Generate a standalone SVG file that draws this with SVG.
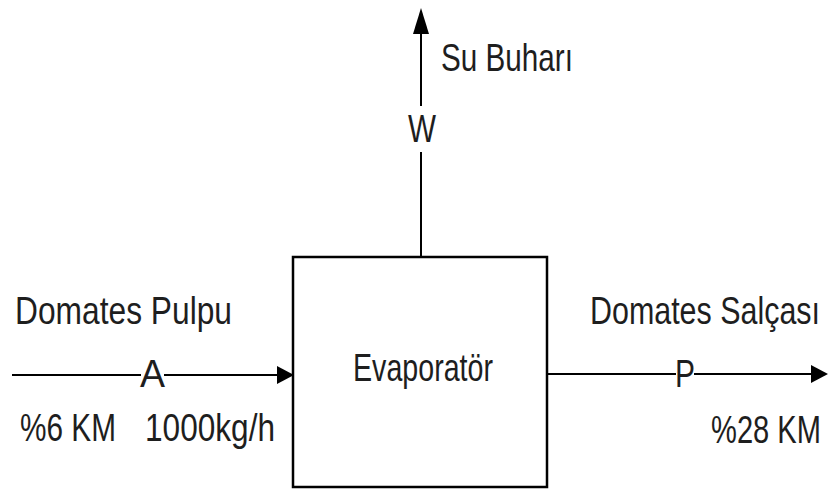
<svg xmlns="http://www.w3.org/2000/svg" width="830" height="490" viewBox="0 0 830 490">
<style>
text{font-family:"Liberation Sans Narrow","Liberation Sans",Arial,sans-serif;font-size:39px;fill:#1e1e1e}
.r{text-anchor:end}
.ln{stroke:#000;stroke-width:2;fill:none}
.hd{fill:#000;stroke:none}
</style>
<rect width="830" height="490" fill="#fff"/>
<g id="connectors">
<line class="ln" x1="421" y1="257" x2="421" y2="152"/>
<line class="ln" x1="421" y1="106" x2="421" y2="30"/>
<polygon class="hd" points="421,8 413,34 429,34"/>
<line class="ln" x1="12" y1="375" x2="141" y2="375"/>
<line class="ln" x1="164" y1="375" x2="279" y2="375"/>
<polygon class="hd" points="294,375 277,366 277,384"/>
<line class="ln" x1="547" y1="374" x2="676" y2="374"/>
<line class="ln" x1="694" y1="374" x2="813" y2="374"/>
<polygon class="hd" points="828,374 811,365 811,383"/>
</g>
<g id="evaporator">
<rect x="293" y="257" width="254" height="230" fill="#fff" stroke="#000" stroke-width="2.5"/>
<text x="353" y="381" textLength="140" lengthAdjust="spacingAndGlyphs">Evaporatör</text>
</g>
<g id="labels">
<text x="441" y="71" textLength="132" lengthAdjust="spacingAndGlyphs">Su Buharı</text>
<text x="408" y="142" textLength="28" lengthAdjust="spacingAndGlyphs">W</text>
<text x="15" y="324" textLength="217" lengthAdjust="spacingAndGlyphs">Domates Pulpu</text>
<text class="r" x="820" y="324" textLength="230" lengthAdjust="spacingAndGlyphs">Domates Salçası</text>
<text x="140" y="387" textLength="25" lengthAdjust="spacingAndGlyphs">A</text>
<text x="675" y="387" textLength="20" lengthAdjust="spacingAndGlyphs">P</text>
<text x="20" y="441" textLength="96" lengthAdjust="spacingAndGlyphs">%6 KM</text>
<text x="145" y="441" textLength="130" lengthAdjust="spacingAndGlyphs">1000kg/h</text>
<text class="r" x="821" y="443" textLength="110" lengthAdjust="spacingAndGlyphs">%28 KM</text>
</g>
</svg>
